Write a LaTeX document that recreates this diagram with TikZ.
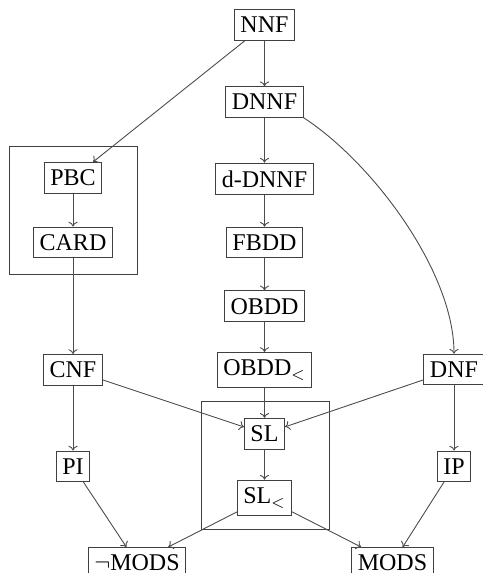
\documentclass[tikz,border=0pt]{standalone}
\usepackage{fontspec}
\setmainfont{Liberation Serif}
\usetikzlibrary{arrows.meta}
\begin{document}
\begin{tikzpicture}[x=0.5pt,y=-0.5pt,
  lang/.style={draw=black!75, line width=0.5pt, inner xsep=3pt, inner ysep=3.7pt,
    font=\fontsize{12}{14}\selectfont, text=black},
  grp/.style={draw=black!75, line width=0.5pt, inner sep=0pt, outer sep=0pt,
    minimum width=64pt, minimum height=64pt},
  conn/.style={draw=black!70, line width=0.45pt, -{To[length=2.4pt,width=4.6pt]}}]
\useasboundingbox (0,0) rectangle (482,573);
% group boxes
\node[grp] (box1) at (73,210.5) {};
\node[grp] (box2) at (265,465.5) {};
% nodes
\node[lang] (NNF)   at (264.5,25)   {NNF};
\node[lang] (DNNF)  at (264.5,102)  {DNNF};
\node[lang] (PBC)   at (73,178)     {PBC};
\node[lang] (CARD)  at (73,242.5)   {CARD};
\node[lang] (dDNNF) at (264.5,179)  {d-DNNF};
\node[lang] (FBDD)  at (264.5,242.5) {FBDD};
\node[lang] (OBDD)  at (264.5,306.3) {OBDD};
\node[lang] (OBDDl) at (264.5,370.2) {OBDD$_<$};
\node[lang] (CNF)   at (73,370)     {CNF};
\node[lang] (DNF)   at (454,369.5)  {DNF};
\node[lang] (SL)    at (264.5,433.8) {SL};
\node[lang] (SLl)   at (264.5,497.8) {SL$_<$};
\node[lang] (PI)    at (73,466.3)   {PI};
\node[lang] (IP)    at (454,466.3)  {IP};
\node[lang] (NMODS) at (137,563)    {$\neg$MODS};
\node[lang] (MODS)  at (392.5,563)  {MODS};
% connectors
\draw[conn] (NNF) -- (DNNF);
\draw[conn] (NNF) -- (PBC);
\draw[conn] (PBC) -- (CARD);
\draw[conn] (CARD) -- (CNF);
\draw[conn] (DNNF) -- (dDNNF);
\draw[conn] (dDNNF) -- (FBDD);
\draw[conn] (FBDD) -- (OBDD);
\draw[conn] (OBDD) -- (OBDDl);
\draw[conn] (OBDDl) -- (SL);
\draw[conn] (DNNF.south east) to[out=-33,in=90,looseness=0.75] (DNF.north);
\draw[conn] (CNF) -- (SL);
\draw[conn] (DNF) -- (SL);
\draw[conn] (SL) -- (SLl);
\draw[conn] (CNF) -- (PI);
\draw[conn] (DNF) -- (IP);
\draw[conn] (PI) -- (NMODS);
\draw[conn] (SLl) -- (NMODS);
\draw[conn] (IP) -- (MODS);
\draw[conn] (SLl) -- (MODS);
\end{tikzpicture}
\end{document}
